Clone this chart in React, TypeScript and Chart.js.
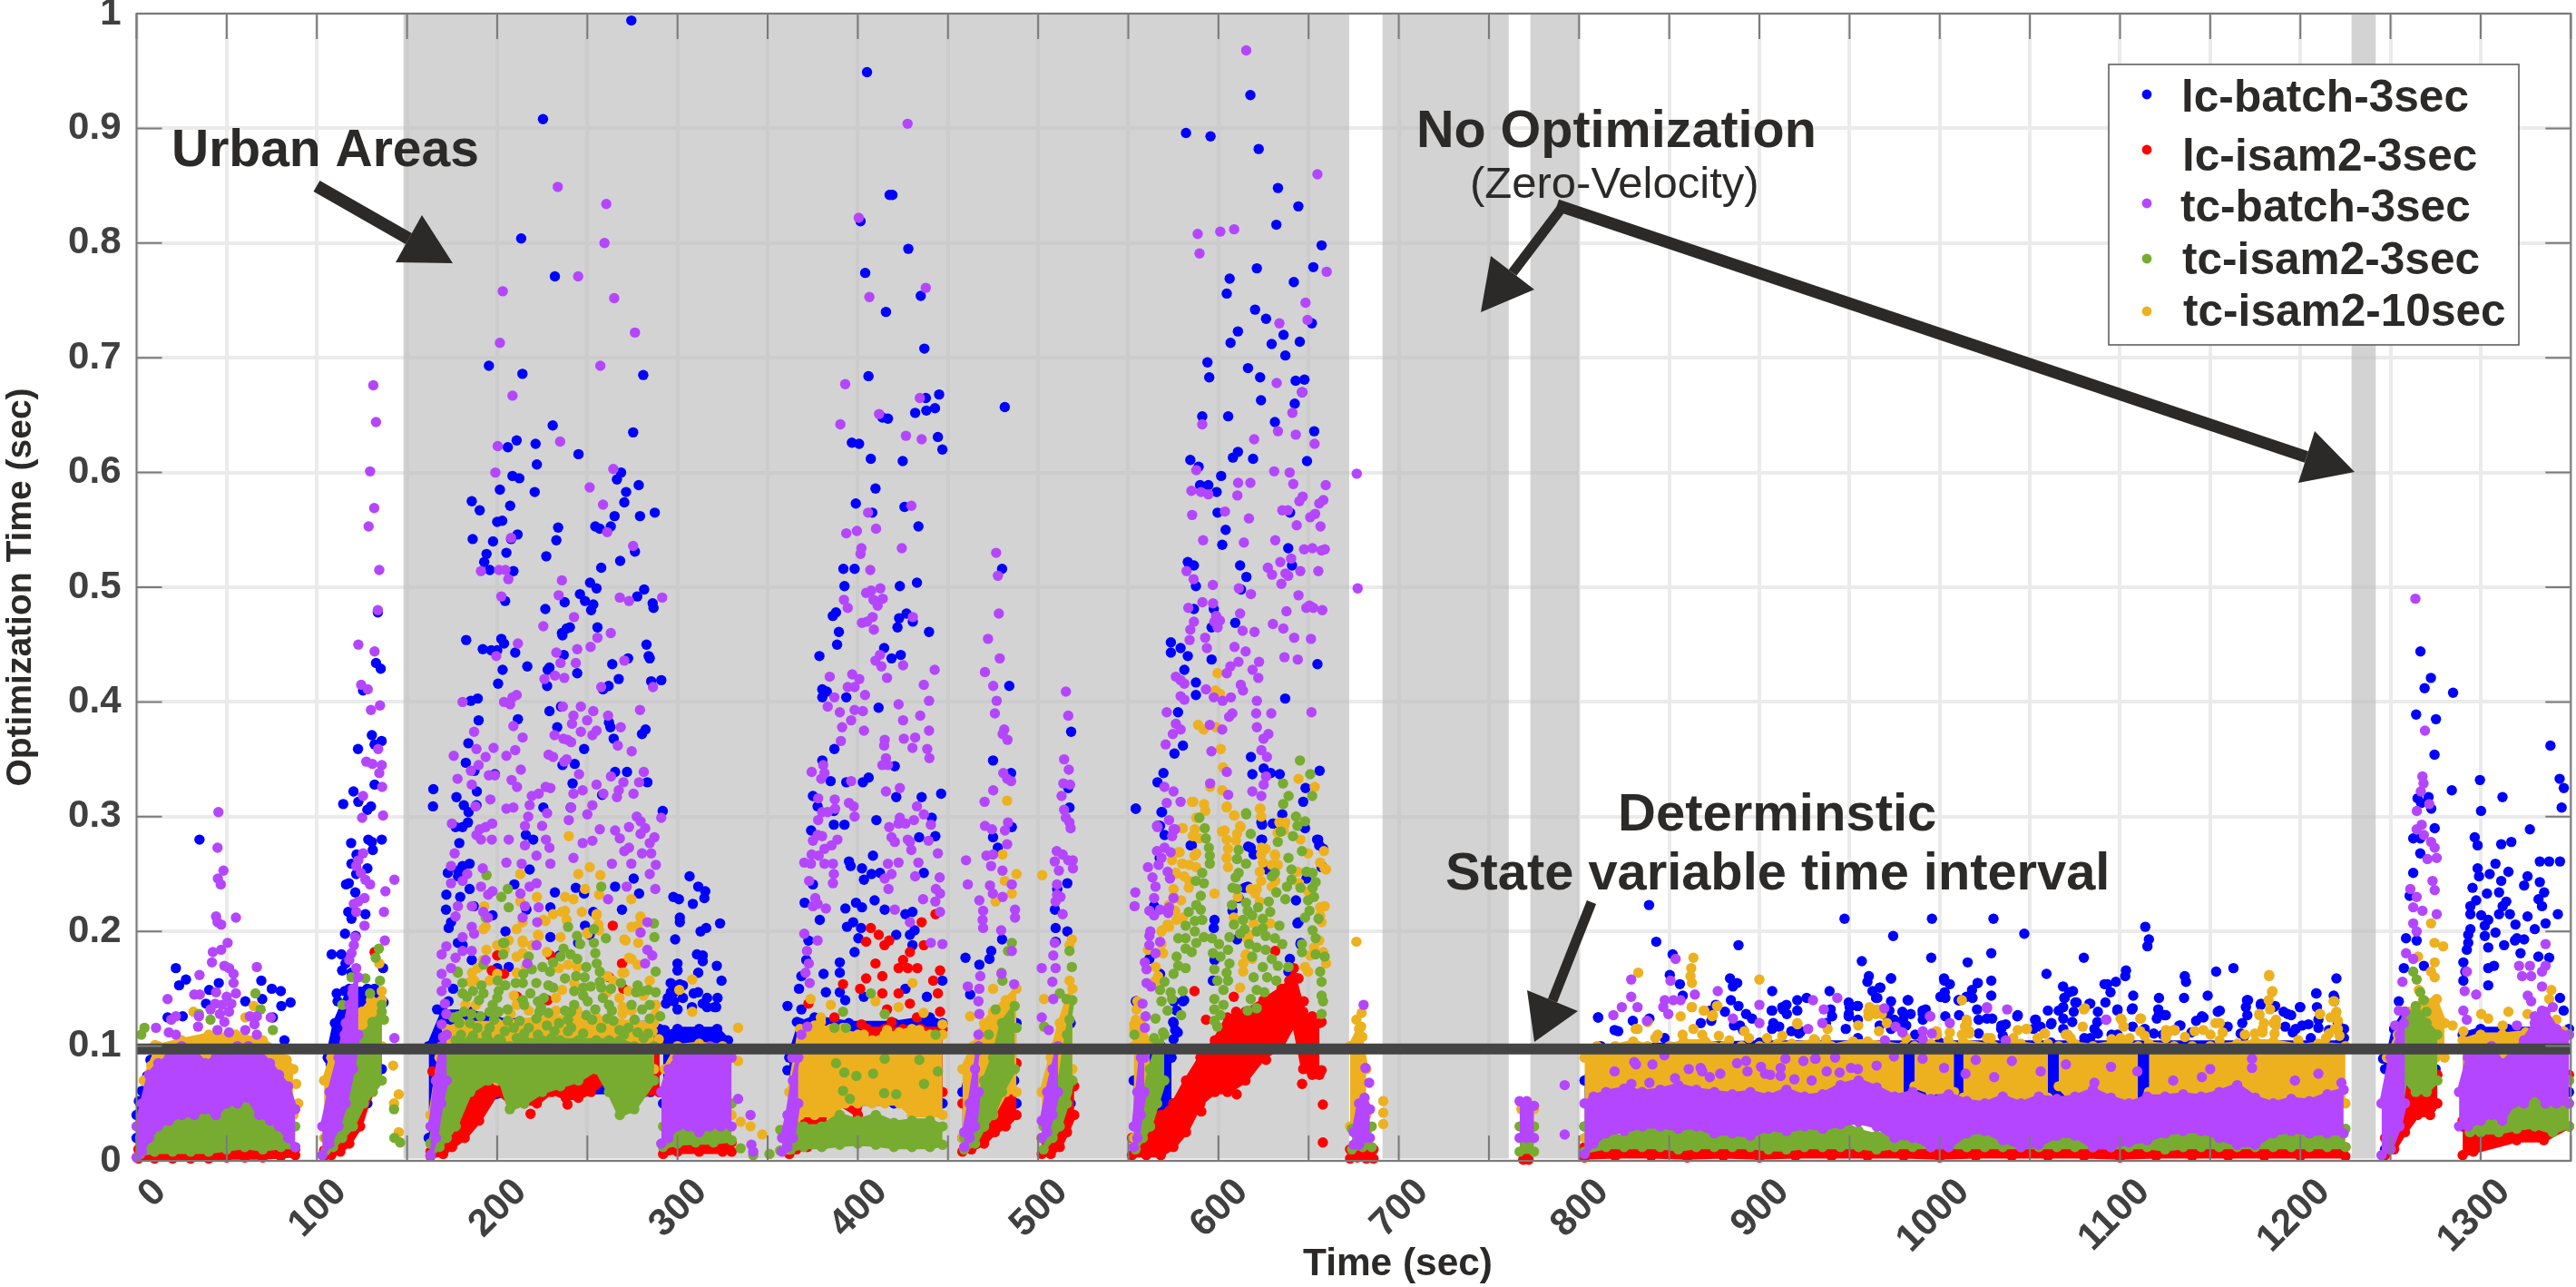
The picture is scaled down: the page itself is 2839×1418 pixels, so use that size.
import React, { useEffect, useRef } from "react";
import { Chart, registerables } from "chart.js";

Chart.register(...registerables);

type Pt = [number, number];
type Row = [number, number, number];

const seriesNames = ["lc-batch-3sec", "lc-isam2-3sec", "tc-batch-3sec", "tc-isam2-3sec", "tc-isam2-10sec"];
const seriesColors = ["#0000FF", "#FF0000", "#B446FF", "#77AC30", "#EDB120"];
const xTickStep = 50;
const yTickStep = 0.1;
const xAxisTitle = "Time (sec)";
const intervalLine: Pt[] = [[0, 0.0976], [1350, 0.0976]];
const noOptimizationRegions: Pt[] = [[148, 672.5], [691, 761], [773, 800], [1228.4, 1241.8]];

const lcBatchPoints: Pt[] = [
[274.4,.994],[225.4,.908],[213.3,.804],[232,.771],[195.4,.693],[214,.686],[281,.685],[230.8,.641],[275.4,.635],[210.8,.628],[205.9,.622],[221.3,.625],[245.1,.616],[222,.607],[268.7,.6],[208.5,.597],[212.3,.595],[266.4,.594],[278.5,.589],[201.5,.585],[220.8,.583],[271.5,.583],[185.9,.575],[190.3,.567],[207.2,.571],[270.5,.574],[265.1,.562],[279.2,.562],[287.4,.565],[200,.557],[202.8,.558],[233.8,.552],[254.4,.553],[256.9,.551],[263,.553],[211.3,.546],[207.7,.542],[186.4,.542],[197.7,.54],[232.8,.541],[194.1,.529],[205.1,.53],[276.4,.531],[227.2,.527],[192.8,.522],[268.2,.523],[195.9,.515],[209,.514],[257.7,.517],[251.5,.504],[255.1,.499],[281.5,.498],[245.9,.494],[277.7,.492],[248.7,.488],[204.4,.488],[237.4,.487],[253.3,.485],[286.2,.486],[286.7,.482],[252.1,.48],[226.7,.481],[133.8,.478],[255.6,.465],[240.3,.465],[238.5,.464],[235.9,.46],
[182.8,.454],[192,.446],[196.7,.445],[200,.445],[202.3,.455],[203.8,.451],[210,.443],[236.2,.458],[216.7,.431],[203,.428],[200.5,.416],[229,.43],[228,.428],[236.9,.441],[244.4,.425],[227.7,.414],[263.8,.433],[272.6,.438],[282.8,.45],[284,.44],[284.6,.438],[285.4,.418],[291,.419],[267.4,.42],[261.8,.414],[258.7,.411],[189.2,.403],[185.4,.401],[189.7,.384],[235.4,.396],[229,.392],[211.5,.385],[233.3,.378],[262,.382],[262.8,.378],[264.6,.368],[282.3,.376],[280.3,.372],[184,.364],[248.2,.359],[182.6,.347],[187.4,.34],[198.7,.337],[265.4,.339],[272,.339],[236.2,.345],[243,.346],[241.8,.329],[283.3,.33],[164.6,.324],[164.4,.309],[177.4,.317],[188.7,.322],[188.5,.31],[181.5,.31],[184.1,.304],[291.8,.305],[258.2,.319],[225.6,.308],[240.8,.308],[183.8,.295],[176.9,.291],[180.8,.291],[215.9,.284],[220,.28],[179,.277],[184.7,.259],[172.6,.251],[178.3,.253],[218,.254],[180.8,.257],[178.3,.248],[275.7,.246],[209.5,.241],[243.6,.238],[184.7,.237],[232,.234],[171.8,.232],[179.5,.23],[278.7,.233],[265.4,.239],[248.2,.233],[187,.222],[229.5,.221],[171.6,.219],[174.4,.208],[173.1,.203],[197.4,.214],[216.2,.219],[253.3,.217],[269.2,.219],[248.7,.205],[204.6,.2],[229.5,.195],[251.3,.197],[244.9,.19],[178.2,.19],[180.8,.188],[185.9,.175],[200,.168],[206.4,.169],[234.6,.179],[175.6,.15],[173,.139],[166.7,.132],
[132.8,.434],[135.4,.429],[125.6,.41],[130.5,.371],[135.9,.366],[132,.363],[122.8,.359],[132,.328],[120.3,.322],[123,.313],[114.6,.311],[128,.306],[130,.309],[128.5,.28],[136,.28],[130.5,.278],[119,.277],[122,.267],[131,.271],[119.2,.259],[128,.255],[116.2,.241],[121.8,.25],[121.3,.234],[117.7,.242],[117.4,.217],[126.9,.215],[119.2,.211],[115.6,.198],[121.5,.196],[108.2,.18],[113.6,.18],[115.9,.172],[114,.166],[119.2,.164],[136.7,.168],[111,.146],[115.4,.148],[111.5,.139],[137,.138],[132,.15],[107,.088],[107.7,.084],
[34.9,.28],[21.8,.168],[27.4,.158],[23.6,.153],[69.2,.157],[75,.15],[80,.148],[80.3,.135],[85.4,.138],[40.3,.149],[45.6,.155],[60.3,.139],[69.7,.141],[38.5,.137],[17.2,.125],[25.6,.126],[75.6,.125],[82,.105],[7.7,.088],[5.9,.074],[3,.061],[1.3,.052],
[306.7,.248],[297.7,.23],[300.8,.228],[311.5,.239],[315.4,.235],[314.9,.229],[308.5,.224],[301.3,.212],[301.3,.208],[323.6,.207],[315.9,.203],[312.8,.2],[298.7,.193],[310.8,.18],[314,.179],[300,.172],[314,.174],[321.8,.17],[311.5,.164],[300,.166],[324.4,.157],[296.2,.155],[301.3,.154],[309,.146],[314,.137],[320.5,.134],[293.6,.137],[297.4,.146],[300,.132],[298,.139],[294.6,.142],[303,.142],[308,.134],[316.4,.142],[322.2,.142],[311.4,.147],[316.4,.134],[321.4,.134],[292.9,.114],[298,.153],[303,.153],[296.3,.147],
[405.1,.949],[419.2,.842],[417.6,.842],[401.5,.819],[428,.795],[404.1,.774],[434.9,.754],[415.6,.74],[436.9,.708],[405.9,.684],[445.1,.668],[437.7,.665],[442.8,.656],[438,.654],[431.8,.652],[416.7,.647],[413.6,.648],[444.4,.631],[396.7,.626],[400.7,.625],[446.9,.62],[407.2,.612],[424.9,.61],[409.8,.586],[398.9,.573],[425.9,.57],[408,.565],[433.6,.553],[392,.516],[398.2,.516],[392.6,.501],[432.8,.504],[423.3,.501],[387.9,.478],[386.1,.475],[427,.477],[422.9,.473],[430.5,.47],[422,.465],[389.5,.461],[439.5,.461],[481.5,.657],[480,.516],
[378.7,.44],[388.5,.45],[414.6,.447],[418.7,.438],[423.8,.441],[484,.414],[380.3,.411],[382.8,.409],[380.3,.404],[393.6,.404],[411.5,.395],[518.3,.374],[387,.359],[475,.349],[380.3,.349],[384.9,.331],[393.6,.33],[402.8,.33],[406,.334],[420.5,.344],[485,.338],[375.1,.318],[435.4,.317],[421.3,.317],[446.2,.32],[377.7,.309],[386.7,.305],[410.3,.297],[392.6,.293],[441,.299],[374.1,.288],[386.7,.293],[443,.283],[434,.282],[475,.282],[477.6,.273],[408.4,.266],[395.1,.261],[402.3,.255],[396,.257],[407.6,.25],[412.3,.251],[403.4,.245],[436.6,.251],[375.1,.241],[516.2,.242],[370.5,.225],[399,.225],[402.3,.221],[409.3,.227],[393.1,.22],[414.9,.219],[430.3,.217],[426.4,.215],[378.9,.21],[397.4,.208],[394,.204],[401.8,.203],[431.5,.201],[428.9,.197],[372.6,.192],[400.3,.194],[421.3,.197],[459.7,.177],[473,.176],[467.4,.171],[398.2,.182],[390,.173],[390,.164],[368.7,.161],[381,.163],[382.3,.147],[390,.147],[393,.14],[361,.135],[462.3,.145],[474,.183],[480,.193],[509.7,.203],[516.2,.2],[517.4,.308],[516.7,.325],[485.4,.291],[509.3,.219],[510.6,.237],[509.7,.191],[361,.079],[364.9,.074],[486.7,.081],[486.7,.07],[430.3,.188],[367.4,.15],[371.4,.175],[368.7,.132],[366.2,.121],[403.3,.143],[426.4,.15],[438.3,.143],[446.9,.157],
[617.7,.929],[582,.896],[595.6,.893],[622.3,.882],[633,.848],[644.3,.832],[632.1,.816],[657.2,.798],[652.6,.779],[621.3,.778],[606.2,.769],[641.8,.766],[604.6,.756],[620.3,.742],[626.4,.734],[651.8,.73],[610.8,.723],[636.1,.72],[606.7,.713],[629.5,.712],[645.1,.714],[637.1,.702],[593.9,.696],[616.4,.691],[594.9,.683],[623.1,.683],[642.8,.68],[647.7,.681],[646.4,.67],[623.6,.663],[642.3,.66],[591,.649],[605.4,.649],[631.3,.644],[653.1,.636],[610.8,.618],[608,.613],[619.2,.612],[584.4,.611],[649.1,.61],[589,.605],[601.5,.597],[589.8,.589],[594.4,.589],[599,.583],[599.5,.565],[639.7,.565],[604,.55],[602.1,.537],[638.7,.534],[583,.522],[586.4,.519],[612,.519],[640.8,.519],[615.5,.509],[587.5,.501],[612.5,.498],[586.4,.481],[597.4,.481],[609.3,.469],[596.2,.465],
[573.6,.452],[573.6,.443],[579,.447],[583,.44],[596.2,.437],[654.9,.433],[581.1,.428],[587.5,.417],[587.5,.406],[637,.403],[577.6,.391],[580.3,.362],[575.6,.355],[618,.352],[618.8,.337],[625.1,.342],[629,.338],[634,.337],[656.1,.34],[569.5,.338],[566.2,.33],[648.3,.325],[554.1,.307],[568.7,.304],[623.8,.295],[630.2,.294],[647,.313],[566.2,.292],[584.6,.275],[623.8,.28],[655.3,.28],[617.9,.273],[655.9,.275],[567.4,.264],[657.2,.257],[616.2,.239],[644.4,.208],[566.2,.219],[645.6,.19],[554.6,.139],[575.3,.139],[580.3,.139],[574.9,.121],[577.4,.112],[565.9,.074],
[554.2,.307],[568.4,.304],[567.6,.292],[570.1,.284],[585.2,.275],[564.3,.222],[576.8,.131],[581,.14],[575.1,.12],[576,.114],[575.1,.106],[597.8,.21],[597.4,.203],[597.8,.175],[596.9,.157],[616.5,.274],[619.5,.267],[624.2,.293],[630.4,.294],[635.4,.302],[624.2,.28],[648,.29],[654.7,.28],[658.1,.272],[657.2,.256],[648.8,.246],[643.8,.207],[643,.227],[611.2,.229],[614.5,.238],[627,.254],[607.8,.218],[610.3,.193],[639.6,.176],[638.8,.165],[645.5,.189],[567.6,.163],[561.7,.176],[554.2,.139],
[838.8,.223],[842.8,.191],[888.4,.188],[947.2,.211],[974.2,.196],[995.7,.211],[1029.8,.211],[1046.9,.198],[1114,.204],[1116,.193],[1115.2,.187],[995.3,.177],[1028.6,.181],[1015.5,.173],[956.8,.174],[1079.9,.177],[851.9,.18],[1162.9,.168],[1153.3,.165],[1135.9,.161],[1136.6,.156],[1059.2,.163],[1103.3,.166],[1102.9,.161],[1220,.159],[960.7,.161],[959.9,.156],[973,.159],[1002.4,.159],[1005.6,.154],[1021.1,.155],[1028.6,.157],[850.3,.162],[855.9,.154],[883.7,.159],[887.7,.155],[885.3,.152],[907.1,.148],[938.9,.148],[966.7,.151],[962.7,.148],[1017.9,.149],[1028.6,.144],[1068.4,.152],[1073.9,.148],[1093,.154],[1097.7,.156],[1107.3,.144],[1121.6,.142],[1135.5,.142],[1148.6,.144],[1208.9,.146],[1218.5,.144],[810.6,.125],[926.2,.142],[921,.14],[915,.136],[950,.134],[954.4,.135],[964.7,.142],[982.6,.14],[1000.4,.143],[1010.4,.14],[1069.1,.142],[1075.9,.138],[1083,.137],[1170.4,.14],[1178,.136],[1218.8,.139],[1185.1,.134],[1199.8,.134],[821.7,.113],[857.5,.144],[872.6,.131],[907.1,.131],[913.1,.132],[921,.131],[949.6,.128],[970.7,.126],[990.5,.131],[976.6,.12],[1026.2,.124],[1034.2,.118],[1043.3,.127],[1053.3,.123],[1062,.12],[1066,.131],[1098.5,.131],[1106.5,.132],[1121.6,.128],[1145.4,.126],[1155.3,.131],[1193,.128],[1201,.118],[1220.8,.12],[1133.5,.118],[1085.8,.115],[1052,.115],[966.7,.118],[936.9,.12],[923,.113],[907,.115],[889.2,.118],
[973,.159],[967.1,.151],[965.4,.142],[973,.139],[982.2,.14],[1002.6,.157],[1002.8,.147],[1000.6,.143],[1003.1,.142],[1021,.155],[1018.2,.142],[1014.8,.143],[1010.7,.14],[1071.8,.147],[1069.3,.142],[1075.2,.138],[1083.5,.137],[1091.9,.138],[1094.7,.147],[1091.4,.154],[1068.5,.134],[1074.3,.13],[1060,.131],[1087.7,.13],[1098.6,.132],[1107,.133],[1121.2,.132],[992.2,.132],[990.6,.128],[979.3,.13],[983.9,.128],[1020.7,.132],[1010.7,.127],[1003.1,.126],[1029.1,.124],[1043,.126],[1036.6,.119],[1034.1,.115],[1052.9,.123],[1055.9,.117],[1061.7,.119],[1068.5,.124],[1073.5,.121],[1087.4,.121],[1124.6,.127],[1120.4,.124],[974.7,.123],[979.7,.123],[990.6,.123],[1021.6,.123],[972.1,.131],[981.4,.118],[986.4,.11],[973,.115],[1021.6,.111],[1035,.109],[1087.7,.111],[1098.6,.11],[1113.7,.115],[1107,.117],[1118.7,.111],[1068.5,.115],[1095.3,.11],[1080.2,.107],[1083.5,.107],[1061.7,.103],[1123.7,.11],
[810.5,.125],[819.7,.114],[829.8,.122],[839,.124],[847.4,.107],[867.5,.12],[875.8,.136],[880.9,.13],[888.4,.135],[892.6,.128],[884.2,.14],[895.9,.124],[906.8,.131],[912.7,.134],[915.2,.128],[911,.117],[921.9,.111],[917.7,.113],[939.5,.132],[949.5,.138],[949.5,.126],[940.3,.126],[947.9,.115],[954.6,.135],[954.6,.123],[954.6,.107],[907.7,.12],[890.9,.114],[885.9,.118],[873.3,.122],
[1171,.14],[1178.2,.137],[1169.8,.134],[1154.2,.13],[1146.3,.125],[1142.2,.122],[1170.6,.127],[1186,.135],[1190.7,.13],[1194.9,.127],[1199.9,.134],[1208.8,.146],[1209.2,.134],[1218.9,.142],[1210,.123],[1210,.116],[1159.7,.117],[1167.8,.12],[1197.4,.115],[1204.5,.119],[1224.2,.115],[1132.9,.118],[1130.4,.114],[1139.6,.112],[1166.9,.111],[1195.8,.112],[1205.8,.107],[1169,.109],[1191.6,.117],[1215.9,.114],[1224.2,.107],[1125.4,.127],
[1266.6,.444],[1272.4,.421],[1268.9,.412],[1284.7,.408],[1264.2,.389],[1275.2,.385],[1274.4,.354],[1338.7,.362],[1299.6,.332],[1343.8,.333],[1346.1,.325],[1284,.323],[1312.1,.317],[1271.1,.317],[1265,.316],[1267,.312],[1272.6,.307],[1300.2,.305],[1344.9,.308],
[1327.3,.289],[1296.7,.282],[1298.3,.275],[1311.4,.276],[1317,.278],[1332.8,.261],[1338,.261],[1344,.261],[1308.2,.259],[1298.3,.255],[1299.1,.248],[1305,.25],[1315.4,.252],[1311.4,.244],[1326,.248],[1332.8,.243],[1295.5,.238],[1303.5,.233],[1310.2,.234],[1324.1,.24],[1335.2,.234],[1297.5,.227],[1314.2,.226],[1332.1,.228],[1294.3,.222],[1312.2,.222],[1334,.222],[1294.3,.215],[1300.3,.214],[1310.2,.215],[1316.2,.215],[1326,.213],[1342.8,.215],[1304.2,.21],[1319.3,.206],[1336,.207],[1294.3,.202],[1302.3,.205],[1293.1,.197],[1308.2,.199],[1330,.202],[1320.1,.194],[1302.3,.196],[1324.1,.193],[1293.1,.19],[1304.2,.186],[1313,.188],[1319,.192],[1292.3,.184],[1322.1,.181],[1332,.178],[1338,.177],[1290.4,.173],[1307.4,.17],[1304.2,.168],[1291.5,.165],[1290.4,.157],[1304.2,.153],[1346,.131],[1344,.142],
[1262.6,.251],[1260.6,.231],[1266.5,.281],[1274.5,.29],[1262.6,.281],[1266.5,.268],[1258.6,.194],[1257.4,.168],[1254.6,.139],[1264.5,.192],[1268.5,.17],[1245.9,.089]];

const tcBatchPoints: Pt[] = [
[233.6,.849],[260.5,.834],[259.5,.8],[244.9,.771],[203.1,.758],[264.9,.752],[276.4,.722],[201.5,.713],[257.2,.693],[208.5,.667],[234.9,.627],[200.3,.623],[199,.6],[264.4,.603],[251.3,.587],[258.7,.572],[261,.548],[207.7,.543],[275.4,.536],[191,.514],[201,.515],[204.6,.515],[206.2,.507],[235.9,.506],[202.3,.492],[234.1,.493],[268,.491],[273.1,.488],[291.5,.491],[242.6,.474],[225.6,.466],[263,.46],[131.3,.676],[132.8,.644],[129.5,.601],[131.8,.569],[128.7,.553],[134.6,.515],[133.8,.48],
[45.4,.304],[44.9,.273],[48.2,.253],[45.1,.246],[46.7,.241],[44.1,.213],[55.1,.212],[44.9,.208],[46.9,.206],[50.5,.19],[42.3,.182],[46.9,.184],[48.7,.17],[66.7,.169],[51.3,.168],[41.8,.173],[53.8,.163],[34.9,.162],[53.8,.155],[32,.145],[35.1,.145],[44.1,.147],[55.1,.146],[50,.143],[17.2,.141],[43.6,.137],[47.4,.136],[52.6,.137],[41,.132],[46.2,.128],[51.3,.13],[21.8,.126],[34.6,.126],[62.8,.126],[66.7,.126],[74.4,.125],[19.2,.123],[10.8,.116],[34.1,.117],[48.7,.121],[65.4,.119],[17.9,.112],[21.8,.11],[44.9,.114],[51.3,.112],[60.3,.114],[66.7,.11],
[123,.45],[132,.444],[124.6,.415],[128.2,.411],[135,.397],[130,.393],[134,.359],[127.4,.348],[130.8,.346],[136,.345],[134.6,.338],[136.2,.326],[125.6,.318],[136.7,.301],[125.1,.299],[143,.245],[125.6,.268],[123,.262],[121.8,.257],[124.4,.251],[126.9,.245],[129.5,.241],[138,.235],[126.4,.229],[123,.226],[120.5,.224],[121.8,.217],[137.2,.217],[126.4,.205],[121.3,.195],[137.7,.192],[120.5,.188],[119.2,.181],[118,.175],[121.8,.168],[119.7,.146],[118,.136],[118,.121],[143,.107],[115.4,.11],
[199.5,.44],[211.5,.451],[255.6,.456],[251.8,.448],[232.8,.443],[235.1,.434],[244.4,.446],[243.6,.434],[237.2,.421],[232,.423],[226.2,.42],[270.5,.436],[286.4,.413],[257.7,.413],[180.8,.4],[203.8,.4],[210.8,.406],[208.5,.404],[207.2,.398],[236.4,.396],[242.3,.388],[246.4,.396],[253.3,.392],[261.5,.388],[279.2,.393],[249.9,.384],[241.5,.381],[209,.379],[255.1,.375],[268.5,.378],[246.4,.374],[252.8,.371],[187.2,.374],[231.8,.371],[236.7,.368],[214.1,.369],[239,.367],[241,.365],[198,.36],[210,.358],[266.9,.362],[274.6,.357],[188.5,.359],[175.9,.353],[205.1,.353],[193.6,.352],[228.5,.354],[231,.352],[237.2,.348],[238.5,.35],[185.4,.34],[189.7,.345],[213.1,.341],[195.4,.336],[198.7,.336],[245.4,.337],[263.1,.335],[281.3,.339],[178,.333],[208,.332],[185.9,.328],[270,.33],[278.7,.33],[211,.326],[255.1,.328],[247.4,.323],[267.4,.323],[226.9,.326],[229.5,.325],[242.3,.32],[223,.32],[219.2,.318],[258.9,.32],[275.6,.32],[266.4,.317],[196.2,.315],[209,.308],[205.1,.307],[188,.309],[218,.31],[227.7,.303],[252.8,.31],[241,.308],[217.2,.3],[250,.302],[291,.299],[277.4,.3],[239.7,.297],[174.9,.294],[197.2,.294],[279.5,.296],[193.6,.291],[190.3,.289],[215.4,.292],[224.9,.292],[256.9,.289],[273.1,.291],[282.1,.29],[188.5,.284],[265.4,.288],[279.5,.285],[191,.28],[197,.28],[206.4,.28],[247.4,.277],[287.2,.282],[284.6,.277],[268,.281],[227,.28],[252.8,.279],[215.4,.275],[229,.273],[273.1,.273],[176.4,.268],[221.8,.266],[242.3,.264],[280.3,.268],[285.4,.268],[270.5,.27],[205.1,.26],[213.6,.259],[229.5,.259],[263.6,.259],[274.4,.259],[288,.258],[174.4,.257],[192,.255],[284.6,.25],[183.4,.25],[180.8,.244],[221.8,.242],[218,.239],[287.7,.237],[191,.239],[197.4,.235],[174.4,.242],[271.8,.239],[195,.232],[261.5,.228],[212.9,.233],[178.2,.222],[186,.222],[215.4,.222],[223,.221],[192.3,.217],[194.9,.212],[176.9,.213],[214.1,.212],[222.2,.208],[185.9,.204],[283.3,.208],[180.8,.195],[187.2,.198],[279.5,.199],[221.8,.188],[171.8,.187],[180.8,.183],[185.9,.183],[169.2,.18],[176.9,.177],[283.3,.184],[286,.179],[193.6,.175],[216.7,.172],[282,.172],[169.2,.163],[174.4,.168],[171.8,.155],[169.2,.148],[171,.137],[171.8,.128],[169.2,.119],[170,.108],
[427.6,.904],[400.5,.822],[437.7,.761],[406.4,.753],[393,.677],[434.4,.665],[411.8,.651],[390.3,.642],[426.7,.632],[435.4,.629],[429.7,.571],[405.7,.565],[399.5,.549],[393.6,.547],[410.1,.551],[402,.534],[424.4,.534],[401.5,.529],[406.9,.515],[412.5,.499],[404.6,.495],[407.4,.497],[392.3,.489],[408.7,.489],[413.8,.49],[411,.484],[394.4,.482],[408.2,.474],[430.5,.474],[402.3,.469],[405.1,.47],[408.9,.463],[476.7,.53],[477.7,.51],[478.2,.477],
[409.8,.436],[412.3,.441],[413.1,.431],[425.1,.432],[442.6,.428],[384.4,.422],[396.9,.424],[400.8,.42],[416.2,.421],[436.6,.415],[394.4,.413],[398.2,.413],[387,.404],[404,.406],[383.3,.396],[390,.391],[398.2,.393],[402.8,.392],[422.6,.398],[439.5,.401],[425.1,.384],[434.6,.388],[396.3,.384],[391.3,.378],[403.4,.375],[439.5,.375],[414.9,.367],[425.5,.368],[431.8,.369],[414.6,.362],[390.6,.366],[430.3,.36],[438.5,.359],[439.7,.351],[415.6,.351],[413.6,.345],[416.7,.345],[374.4,.339],[380.8,.345],[381.5,.338],[379.7,.333],[396.3,.331],[415.6,.322],[423.3,.325],[378,.316],[387.2,.315],[395.1,.312],[397.7,.309],[387.4,.307],[432.8,.309],[380.2,.304],[398.2,.3],[383.3,.304],[423.3,.299],[431.1,.297],[436.6,.302],[378,.297],[422.6,.294],[426.4,.294],[417.4,.291],[440.5,.293],[377.7,.284],[380.2,.283],[418.7,.282],[427.7,.28],[375.1,.279],[388.7,.28],[420.5,.278],[428.9,.278],[439.2,.279],[385.4,.275],[429.7,.271],[381.5,.272],[374.4,.267],[378.3,.266],[444.4,.268],[370.3,.26],[374,.259],[381.5,.259],[386.2,.259],[416.7,.259],[422.6,.26],[433.6,.26],[386.7,.25],[418.7,.25],[414.9,.246],[431.8,.248],[445.4,.247],[373,.244],[386.2,.242],[417,.237],[443.3,.237],[445.6,.233],[376.4,.229],[436.2,.228],[375.1,.222],[377.7,.224],[443,.226],[382.3,.22],[420.5,.219],[445.6,.217],[370.3,.198],[377.7,.192],[371.8,.183],[372.8,.172],[371,.164],[373.3,.155],[428.9,.208],[440.5,.19],[446.9,.189],[372,.117],[368.7,.11],[363.6,.09],
[472.2,.455],[478.7,.438],[470.5,.426],[475.1,.414],[477,.401],[476,.39],[481.2,.376],[480.3,.372],[483,.367],[480.7,.338],[482.8,.333],[485,.331],[475.1,.323],[470.3,.313],[483.3,.295],[481.6,.288],[474.4,.289],[470.5,.292],[482.8,.276],[475,.267],[471.3,.266],[460,.262],[473.9,.257],[480.2,.253],[461,.241],[473.3,.24],[485.4,.241],[474.9,.233],[467.4,.227],[480.3,.23],[487.2,.219],[469.5,.218],[469.2,.21],[487.2,.212],[469.5,.203],[479.5,.201],[485.4,.183],[479.7,.163],[486.7,.154],[461,.152],[467.9,.161],[467.4,.15],[466.9,.139],[467.4,.128],[466.9,.11],[466.2,.096],
[515.4,.409],[516.7,.388],[514.4,.35],[517,.341],[514,.329],[517.7,.328],[513,.318],[514.4,.306],[515.4,.299],[517.4,.295],[518,.29],[510.3,.27],[513.6,.267],[516.7,.262],[519.2,.262],[509.2,.261],[511.5,.253],[519.3,.255],[510.5,.241],[510.5,.232],[512.4,.23],[509.7,.226],[513.6,.215],[509.2,.19],[508.4,.179],[509.7,.168],[502,.168],[507.9,.156],[508.4,.141],[502,.125],[505.9,.114],
[615.4,.968],[654.9,.86],[608.7,.812],[601,.81],[588.5,.808],[589.5,.791],[660,.775],[648.3,.748],[633.8,.73],[649.4,.733],[632.3,.678],[646.4,.67],[641,.652],[591,.642],[633,.636],[642.9,.633],[619.8,.629],[653.3,.625],[587.7,.602],[630.9,.601],[639.5,.6],[641.5,.59],[610.9,.591],[617.7,.591],[659.5,.589],[585,.584],[590.3,.583],[594.4,.581],[610.5,.58],[646.7,.579],[644.9,.575],[658.2,.576],[655.9,.573],[585.4,.563],[603.6,.566],[635.4,.567],[638.5,.567],[653.6,.564],[616.9,.56],[650.9,.561],[643.4,.554],[656.6,.553],[591.5,.541],[614.1,.539],[631.5,.541],[647.5,.533],[652.1,.534],[657.2,.532],[659,.533],[640.3,.525],[634.3,.522],[627.4,.517],[582.3,.514],[629.7,.511],[637.2,.512],[638.7,.51],[645.4,.514],[655.4,.514],[586.2,.507],[634.9,.503],[596.9,.502],[611.3,.499],[618,.494],[644.4,.493],[591.1,.487],[597,.486],[583.3,.482],[648.7,.482],[650.5,.484],[652.6,.482],[657.6,.48],[637.7,.479],[612,.477],[598.7,.475],[600.8,.471],[597.7,.47],[586.4,.47],[630.2,.468],[636,.464],[599.5,.465],[613.4,.462],[620,.461],[584.4,.463],[676.7,.599],[677.2,.499],
[593.6,.447],[584,.454],[592.6,.456],[608.9,.448],[615.1,.444],[642,.456],[651.3,.455],[622.5,.435],[636.6,.439],[644,.437],[611.1,.435],[606.6,.431],[604.6,.425],[618.9,.428],[576.4,.422],[622.1,.421],[579,.419],[581.1,.416],[612.4,.415],[613.6,.41],[593.1,.411],[579,.405],[581.1,.402],[597.4,.404],[602.3,.401],[606.9,.404],[621.3,.401],[571.3,.391],[651.6,.391],[607.7,.39],[605.9,.387],[620.9,.39],[629.3,.39],[576.4,.381],[595.2,.38],[602.1,.376],[621.3,.378],[574.7,.372],[579,.376],[627.7,.372],[625,.368],[570.7,.363],[623.8,.358],[596.1,.357],[626.9,.352],[604.6,.339],[626.4,.335],[625.1,.328],[595.4,.329],[570,.326],[575.1,.322],[618.8,.322],[623.8,.318],[605.4,.319],[571.3,.312],[579,.313],[566.2,.291],[575.1,.289],
[565.9,.292],[572.6,.297],[576,.289],[574.3,.283],[570.1,.273],[565.9,.27],[573.5,.269],[568.4,.264],[560.9,.256],[566.8,.258],[571.8,.252],[563.4,.247],[573.1,.246],[565.1,.239],[553.9,.234],[564.3,.229],[575.1,.229],[553.5,.222],[567.6,.219],[572.6,.221],[561.7,.218],[564.3,.214],[572.1,.216],[562.2,.2],[561.7,.196],[567.6,.191],[561.7,.188],[565.1,.181],[559.2,.173],[560.1,.167],[560.1,.155],[562.6,.152],[557.9,.137],[559.6,.126],[559.2,.116],
[680.5,.136],[681.5,.081],[683.6,.068],[792,.066],[792,.023],[333.6,.054],[340.5,.04],[341,.014],[342,.008],
[828.9,.158],[853.5,.176],[828.9,.143],[850.7,.157],[864.2,.145],[876.9,.148],[943.2,.142],[929.7,.14],[847.5,.14],[852.3,.14],[856.3,.14],[823.7,.134],[819,.127],[832.4,.134],[837.6,.122],[846.7,.134],[849.5,.128],[900,.136],[935.7,.132],[1026.2,.134],[1037.4,.132],[1092.2,.123],[994.5,.126],[900,.12],[927,.115],[934.9,.12],[885.3,.124],
[830.6,.086],[840.7,.084],[847.3,.092],[853.2,.072],[860.8,.08],[868.3,.078],[872.5,.073],[878.3,.076],[887.6,.085],[892.6,.087],[893.4,.078],[900.9,.082],[906,.075],[911.8,.081],[911.8,.074],[919.4,.071],[929,.07],[937.3,.078],[944.5,.077],[914.4,.089],[924.4,.087],[931.1,.089],[942,.09],[954.6,.08],[819.7,.078],[829,.067],[839,.068],[831.6,.084],[867.4,.081],[903.1,.076],[931,.089],[950.8,.081],[974.6,.091],[990.5,.089],[1002.4,.081],[1014.3,.076],[1030.2,.073],[1056,.078],[1085.8,.068],[1109.6,.078],[1129.5,.07],[1145.4,.073],[1173.2,.089],[1173.2,.081],[1197,.07],[1222.8,.068],[1070,.084],[1040,.087],[1095,.082],[1150,.08],[1210,.076],[965,.083],[1020,.088],
[969.3,.133],[994.8,.126],[1026.2,.133],[1005.6,.12],[975.5,.117],[979.3,.112],[990.6,.113],[995.6,.111],[1092.4,.123],[990.6,.106],[969.6,.105],[1036.6,.105],
[1263.8,.49],[1269.1,.375],[1267.7,.335],[1268.3,.329],[1266.8,.322],[1271.5,.311],[1264.6,.305],[1267.3,.293],[1264.5,.289],[1268.5,.284],[1272.5,.278],[1274.5,.273],[1275.6,.264],[1270.5,.263],[1273.3,.244],[1274.5,.236],[1261,.237],[1264.5,.23],[1262.6,.221],[1267.7,.218],[1275.6,.215],[1262.6,.207],[1264.5,.2],[1258.6,.181],[1262.6,.176],[1256.6,.156],[1254.6,.131],[1252.6,.118],[1257.4,.12],[1336,.189],[1321.3,.17],[1336,.17],[1327.3,.17],[1323,.161],[1328,.161],[1334,.165],[1292.3,.165],[1291.1,.148],[1297.5,.145],[1326.1,.144],[1328,.139],[1334,.152],[1340,.134],[1290.4,.131],[1292.3,.123],[1334,.131],[1320.1,.118],[1330,.126]];

const tcIsam10Points: Pt[] = [
[239.7,.283],[245,.25],[251.3,.256],[257.2,.249],[212.8,.25],[222,.23],[237.7,.23],[242.3,.228],[248.7,.237],[256.5,.232],[212.8,.226],[235.9,.217],[255.1,.214],[192.8,.222],[279.5,.212],[274.4,.228],[214.1,.208],[225.6,.21],[193.6,.204],[270.5,.193],[206.4,.192],[223,.196],[214.1,.192],[250,.199],[256.5,.201],[200,.188],[278.2,.19],[273.1,.177],[192.3,.175],[186,.164],[270.5,.164],
[192.4,.202],[194.1,.184],[189.1,.168],[187.4,.157],[210.8,.202],[214.2,.19],[210.8,.178],[219.2,.188],[227.6,.182],[222.6,.197],[235.1,.195],[226.8,.209],[231,.215],[237.6,.218],[238.5,.21],[246.9,.217],[255.2,.215],[256.1,.206],[250.2,.198],[271.2,.192],[277.9,.205],[274.5,.204],[279.5,.213],[274.5,.176],[277.9,.171],[284.6,.157],[287.9,.136],[281.2,.144],[272.8,.148],[269.5,.134],[267.8,.142],[264.5,.157],[261.1,.161],[269.5,.164],[244.4,.169],[239.3,.171],[234.3,.168],[210.8,.164],[215.9,.169],[200,.163],[195.8,.157],[184.9,.156],[182.4,.136],[188.2,.136],[209.2,.144],[232.6,.142],[236,.149],[242.7,.155],[261.1,.147],[269.5,.128],[274.5,.131],[287.9,.128],[286.2,.113],[289.6,.106],[267.8,.107],[217.5,.131],[210.8,.136],[207.5,.128],[232.6,.131],[244.4,.131],[204.2,.184],[214.2,.181],
[31.5,.13],[65,.135],[60.3,.125],[10.3,.101],[8.2,.083],[83.3,.088],[84.6,.078],[88.5,.067],[89.7,.05],[134.6,.172],[136,.148],[142.3,.083],[145.4,.058],[142.8,.05],[145.4,.025],[308.2,.158],[301,.149],[308.2,.13],
[333.6,.116],[333.6,.087],[335,.034],[340.5,.03],[347,.023],[357,.009],[482.8,.314],[480.2,.267],[488,.25],[481.5,.244],[485.4,.233],[476.4,.226],[502.3,.249],[518.7,.193],[517.4,.188],[517.4,.157],[503.3,.141],[475,.15],[462.3,.126],[676.5,.191],[679.4,.129],[676.5,.123],[679.8,.108],[679.1,.117],[691.4,.052],[691.4,.042],[691.4,.032],[385,.136],[379.5,.125],[373.8,.141],[430.3,.155],[422.6,.134],[436.5,.129],[409.8,.139],[447,.119],[379.5,.121],[385.4,.114],[403.3,.11],[416.2,.114],[434.1,.114],[391.8,.116],
[599.5,.425],[604.6,.425],[598.3,.41],[600.9,.407],[588.7,.38],[591.8,.376],[598.7,.378],[601.3,.359],[602.6,.343],[595.4,.326],[602.1,.323],[585.3,.313],[592,.311],[644.4,.333],[653.4,.326],[604.6,.309],[608.9,.301],[623.3,.307],[589.3,.299],[636.6,.293],[580,.29],[603.4,.288],[612.3,.291],[632.8,.286],[609.7,.279],[623.8,.273],[577.7,.269],[586.7,.266],[604.6,.264],[631.5,.266],[658.5,.27],[579.9,.259],[583.8,.258],[659.7,.254],[576.4,.251],[631.5,.244],[583.8,.244],[621.3,.237],[610.7,.23],[575.1,.23],[658.5,.222],[572.6,.219],[608.5,.212],[580.3,.212],[572.6,.204],[657.2,.208],[616.2,.193],[568.7,.201],[655.9,.192],[615.1,.179],[650.9,.179],[566.5,.161],[554.6,.132],[553.3,.119],[554.6,.108],
[586,.313],[592.7,.305],[587.7,.299],[586.9,.289],[585.7,.283],[580.2,.29],[589.4,.281],[587.7,.268],[578.5,.269],[574.3,.262],[580.2,.259],[587.7,.256],[576.3,.25],[581,.248],[583.5,.238],[597.8,.233],[575.1,.237],[579.3,.227],[572.6,.223],[576,.218],[576.8,.21],[571.8,.206],[568.4,.2],[568.4,.189],[560.9,.184],[569.3,.181],[565.1,.169],[565.1,.157],[555,.139],[554.2,.123],[553.4,.115],[556.7,.107],[604.5,.308],[608.6,.301],[612,.292],[601.9,.287],[610.3,.285],[604.5,.28],[605.3,.272],[604.5,.264],[605.3,.256],[622.9,.307],[623.7,.3],[626.2,.272],[623.7,.267],[631.3,.267],[624.6,.26],[629.6,.258],[622.9,.252],[623.7,.244],[617.9,.237],[620.4,.233],[629.6,.239],[622.9,.226],[632.9,.258],[637.1,.295],[636.3,.288],[643.8,.252],[644.7,.242],[649.7,.235],[656.4,.221],[658.9,.222],[656.4,.214],[653,.186],[658.1,.182],[659.7,.172],[649.7,.165],[648,.169],[615.3,.18],[613.7,.172],[613.7,.165],[618.7,.176],[612,.151],[628.7,.207],[619.5,.207],[617,.197],[658.9,.255],[649.7,.268],[656.4,.26],[645.5,.28],[633.8,.295],
[832.8,.164],[863.4,.177],[862.2,.168],[861.8,.161],[862.6,.155],[900,.158],[1182.7,.161],[1184.3,.147],[961.1,.134],[862.6,.134],[876.5,.135],[869.4,.131],[873.8,.126],[838,.121],[832.4,.115],[856.3,.126],[1218.8,.139],[1219.6,.128],[1220.8,.115],[1079.9,.132],[1111.6,.124],[1100.9,.123],[1177.2,.128],[1185.1,.12],[1210.9,.128],[1015.1,.12],[1016.3,.113],[964.7,.128],[954.8,.118],[970.7,.12],[921,.12],[998.5,.11],[1155.3,.12],[1125.5,.114],[1141.4,.113],[1069.9,.11],[1058,.111],[1048,.115],[1179.1,.115],[1169.2,.11],[1026.3,.107],[930.9,.105],[863.4,.115],[843.6,.11],[883.3,.105],
[1012.3,.14],[1014.9,.123],[1014,.117],[1016.5,.111],[1012.3,.11],[1005.6,.112],[1028.3,.107],[1043.3,.114],[1048.4,.115],[1040.8,.107],[1054.2,.107],[1058.4,.111],[1071,.11],[1072.6,.107],[1080.5,.133],[1079.3,.117],[1100.3,.124],[1102,.117],[1111.2,.124],[1111.2,.113],[1113.7,.109],[1105.3,.107],[1100.3,.107],[1095.3,.106],[1125.4,.111],[1125.4,.107],[1129.6,.114],[998.1,.113],[1004.8,.105],[981.4,.107],[967.9,.128],[965.4,.132],[966.3,.113],
[838.1,.121],[831.4,.115],[842.3,.107],[857.4,.11],[862.4,.134],[869.1,.131],[874.2,.127],[876.7,.135],[921.1,.119],[891.7,.113],[937.8,.115],[937,.106],[930.3,.106],[960.4,.126],[960.4,.13],[868.3,.11],[877.5,.109],[894.2,.107],[904.3,.107],[912.7,.109],
[1182.7,.162],[1184.5,.148],[1182.4,.14],[1183.2,.132],[1177.3,.127],[1179.8,.12],[1186.5,.123],[1186.5,.118],[1185.7,.111],[1174.8,.111],[1179,.112],[1218.4,.139],[1220,.13],[1210.8,.128],[1216.7,.125],[1220.9,.122],[1219.2,.115],[1215.9,.111],[1221.7,.109],[1214.2,.107],[1153,.12],[1156.9,.112],[1150.2,.11],[1146.2,.114],[1130.4,.114],[1136,.108],[1155.2,.105],[1198.8,.105],[1126.2,.111],
[1272.5,.207],[1274.4,.19],[1279.2,.187],[1265.3,.178],[1274.5,.173],[1272.5,.165],[1274.5,.16],[1265.7,.149],[1275.7,.141],[1339.2,.149],[1338,.141],[1268.5,.131],[1300.3,.128],[1315.4,.13],[1326,.128],[1304.2,.124],[1342,.123],[1346,.113],[1312.2,.118],[1284.4,.118],[1290.4,.113]];

const tcIsam3Points: Pt[] = [
[194.1,.249],[257.7,.239],[202.3,.23],[205.9,.237],[206.4,.221],[286.9,.207],[287.2,.195],[193.6,.212],[204,.19],[178.2,.164],[180.8,.146],[175.6,.125],
[239.3,.204],[244.3,.196],[253.6,.202],[260.3,.194],[246,.189],[253.6,.19],[254.4,.181],[236.8,.185],[235.1,.178],[240.7,.18],[244.4,.176],[255.2,.172],[249.4,.169],[256.9,.165],[203.3,.19],[203.3,.18],[217.5,.178],[225.1,.169],[231,.173],[229.3,.165],[219.2,.167],[214.5,.163],[192.4,.171],[178,.165],[237.6,.159],[243.8,.161],[248.5,.16],[256.9,.156],[268.6,.155],[277.9,.153],[287.9,.165],[200.3,.157],[210.3,.155],[214.2,.155],[221.7,.155],[228.4,.153],[231,.151],[242.7,.148],[247.7,.151],[251.9,.152],[257.7,.151],[263.1,.15],[180.7,.155],[191.3,.153],[204.5,.153],[200.8,.148],[186.6,.148],[183.2,.143],[192.4,.146],[218.4,.146],[247.7,.144],[250.2,.139],[258.6,.142],[262,.136],[277,.147],[283.7,.149],[287.9,.147],[280.4,.148],[189.9,.14],[200,.142],[214.2,.14],[225.9,.142],[222.6,.139],[242.7,.136],[263.6,.131],[274.5,.136],[284.6,.136],[280.4,.132],[197.5,.136],[215,.136],[224.3,.134],[237.6,.131],[254.4,.132],[205.8,.132],[181.5,.13],[185.7,.128],[178.2,.126],[200.8,.13],[195.8,.13],[223.4,.13],[228.4,.129],[241,.13],[249.4,.127],[261.1,.124],[264.5,.122],[284.6,.124],[290.4,.126],[276.2,.123],[190.8,.126],[198.3,.123],[179,.12],[184.9,.12],[205.8,.122],[212.5,.122],[221.7,.124],[234.3,.12],[239.3,.123],[252.7,.123],[272.8,.116],[277.9,.112],[189.1,.116],[195.8,.116],[209.2,.116],[217.5,.116],[227.6,.118],[241,.116],[257.7,.116],[179.9,.11],[186.6,.109],[194.1,.11],[204.2,.113],[215,.111],[222.6,.11],[231.8,.113],[239.3,.113],[247.7,.111],[267.8,.114],[283.7,.111],[270.3,.11],[281.2,.107],[200.8,.106],[210.8,.107],[230.1,.107],
[4.4,.116],[2.6,.11],[65.9,.146],[68.8,.132],[41,.123],[75.6,.114],[34.6,.128],[134.4,.185],[132.6,.177],[119.2,.16],[126.9,.159],[135,.157],[129.5,.146],[114.1,.136],[136,.136],[137.2,.123],[130.8,.121],[143,.02],[146.2,.016],[142.8,.045],[335,.011],[342,.005],[351,.006],[357,.027],[357,.009],
[645.2,.349],[650.9,.337],[635.8,.329],[638.9,.318],[635.9,.311],[652,.318],[615.4,.302],
[589.4,.299],[592.4,.29],[593,.281],[594.7,.273],[595.2,.266],[595.2,.259],[591,.251],[587.4,.244],[591.9,.242],[590.2,.231],[587.7,.223],[583.5,.217],[590.2,.219],[591,.21],[586.9,.209],[581.8,.205],[586.9,.2],[577.7,.194],[581.8,.194],[591.9,.195],[596.4,.194],[587.7,.19],[581.8,.185],[585.2,.182],[576.8,.178],[577.7,.17],[581.8,.168],[575.1,.163],[570.1,.156],[580.2,.148],[567.6,.149],[573.5,.147],[568.4,.139],[574.3,.141],[571.8,.131],[579.3,.127],[565.1,.124],[569.3,.112],[564.3,.107],[553.4,.11],[615.3,.303],[617.9,.285],[611.2,.271],[610.3,.263],[615.3,.259],[611.2,.251],[609.5,.247],[607.8,.238],[610.3,.237],[607.5,.223],[615.3,.225],[616.2,.218],[622,.221],[618.7,.214],[624.6,.211],[613.7,.21],[608.6,.206],[614.5,.202],[612,.198],[624.6,.203],[621.2,.2],[626.2,.196],[631.3,.194],[635.4,.189],[606.1,.195],[600.3,.189],[605.3,.184],[596.9,.181],[601.1,.178],[606.1,.172],[597.7,.167],[604.5,.164],[605.3,.157],[599.4,.157],[602.8,.149],[597.7,.141],[602.8,.136],[597.7,.132],[601.1,.127],[597.7,.122],[599.4,.117],[617,.189],[621.2,.186],[618.7,.178],[626.2,.184],[629.6,.176],[624.6,.169],[632.9,.17],[638.8,.169],[619.5,.16],[627,.16],[632.1,.157],[621.2,.149],[617.9,.141],[625.4,.147],[616.2,.131],[621.2,.133],[643,.3],[648,.296],[643.8,.292],[634.6,.287],[632.9,.278],[641.3,.283],[646.3,.27],[638.8,.264],[648.8,.252],[652.2,.251],[640.5,.254],[631.3,.251],[629.6,.248],[640.5,.245],[653.9,.243],[652.2,.238],[638,.239],[645.5,.238],[632.1,.234],[627.9,.226],[637.1,.228],[653,.23],[649.7,.227],[628.7,.217],[650.5,.218],[648,.212],[655.5,.211],[633.8,.205],[652.2,.201],[653.9,.194],[646.3,.189],[646.3,.182],[653.9,.18],[658.9,.178],[656.4,.165],[657.2,.156],[657.2,.144],[658,.139],[657.2,.128],
[485.4,.19],[483.3,.183],[479.7,.164],[480.2,.157],[476.4,.132],[488,.116],[472.6,.11],[517.4,.183],[518.7,.169],[512,.146],[515.7,.141],[517.4,.123],[503.3,.117],
[407.2,.146],[391.8,.13],[414.9,.128],[387,.116],[393.4,.116],[443.1,.11],[387.9,.085],[392.5,.077],[408.5,.076],[414.9,.089],[434.1,.088],[436.7,.067],[444.4,.078],[399.2,.074],[391.8,.061],[395.6,.054],[414.6,.059],[421.3,.058],
[1262.6,.165],[1264.5,.158],[1266.5,.147],[1268.5,.14],[1270,.13],[1258,.12]];

const lcIsamPoints: Pt[] = [
[407.2,.203],[411.6,.197],[404.6,.191],[417.4,.192],[414.8,.188],[443.1,.215],[435.4,.208],[436.6,.188],[409.8,.172],[428.9,.182],[425.1,.175],[422.6,.168],[427.7,.168],[433,.168],[445.6,.166],[413.6,.161],[404.6,.159],[391.8,.154],[401.3,.15],[441.8,.157],[422.6,.146],[413.6,.146],[428.9,.137],[444.4,.146],[387,.125],[402,.119],[418.7,.121],[432.8,.125],[445.6,.13],[416.2,.132],[372.6,.137],
[586.7,.148],[631.5,.183],[641.8,.168],[644.4,.159],[639.3,.157],[635.5,.146],[647.3,.139],[626.4,.137],[608.5,.143],[645.7,.128],[652,.126],[593.1,.123],[609.8,.13],[657.2,.121],[646.4,.067],[657.9,.049],[657.9,.016],[657.2,.079],[626.4,.088],[610.1,.058],[590.5,.043],
[132,.182],[200,.179],[203.8,.163],[229.5,.179],[264.1,.205],[269.2,.172],[218.5,.041],[239,.049],[285.9,.061],[288.5,.078],[276.9,.061],[164.1,.078],[211,.143],[228,.14],[262,.16],[270,.15],[197,.166],[256,.118],[244,.122]];

const lcBatchBands: Row[][] = [
[[0,.02,.04],[4,.025,.06],[10,.03,.08],[25,.03,.09],[50,.03,.09],[70,.03,.09],[82,.03,.08]],
[[106,.02,.09],[110,.02,.12],[118,.03,.15],[128,.05,.15],[136,.08,.14]],
[[162,.02,.1],[170,.03,.13],[185,.05,.13],[210,.06,.12],[240,.06,.12],[265,.06,.12],[285,.06,.12],[290,.06,.115]],
[[292,.05,.11],[300,.05,.115],[312,.05,.115],[322,.05,.115],[328,.05,.105]],
[[362,.02,.09],[368,.03,.12],[376,.05,.125],[395,.05,.12],[420,.05,.12],[440,.05,.125],[447,.05,.12]],
[[458,.02,.06],[465,.03,.1],[475,.04,.12],[488,.05,.12]],
[[503,.02,.06],[510,.03,.1],[518,.05,.12]],
[[553,.02,.07],[560,.03,.09],[568,.04,.1],[574,.05,.09]],
[[803,.03,.07],[812,.04,.1],[900,.05,.103],[1000,.05,.103],[1100,.05,.103],[1222,.05,.103]],
[[1247,.01,.08],[1252,.02,.115],[1258,.05,.13],[1268,.07,.13],[1275,.08,.12]],
[[1290,.03,.11],[1300,.05,.115],[1315,.05,.115],[1330,.06,.115],[1349,.06,.115]]];

const lcIsamBands: Row[][] = [
[[1,.002,.01],[10,.002,.011],[20,.002,.012],[30,.002,.01],[40,.002,.009],[50,.003,.012],[60,.003,.016],[70,.003,.012],[80,.004,.011],[88,.005,.01]],
[[104,.004,.009],[108,.005,.015],[113,.008,.03],[118,.015,.05],[124,.03,.08],[130,.06,.1]],
[[163,.004,.008],[170,.006,.02],[175,.012,.04],[182,.02,.055],[190,.035,.07],[200,.06,.085],[208,.05,.09],[215,.05,.09],[222,.05,.1],[230,.06,.11],[238,.055,.1],[245,.055,.1],[252,.06,.11],[260,.07,.11],[270,.08,.105],[282,.06,.105],[290,.06,.1]],
[[292,.006,.015],[300,.008,.018],[312,.008,.018],[325,.008,.016],[330,.008,.016]],
[[362,.006,.012],[366,.01,.05],[372,.012,.06],[380,.035,.075],[390,.05,.09],[400,.04,.07],[405,.07,.115],[415,.06,.115],[425,.07,.115],[435,.06,.115],[447,.06,.115]],
[[458,.008,.05],[463,.01,.04],[470,.015,.035],[476,.025,.055],[482,.03,.07],[488,.04,.085]],
[[502,.006,.02],[507,.006,.025],[512,.012,.035],[516,.025,.055],[520,.04,.065]],
[[552,.005,.02],[560,.005,.03],[568,.005,.04],[575,.012,.05],[582,.025,.07],[590,.05,.09],[598,.06,.105],[605,.06,.125],[615,.07,.13],[625,.09,.14],[635,.1,.15],[642,.12,.16],[647,.08,.13],[652,.075,.12],[656,.075,.12]],
[[673,.002,.01],[677,.003,.01],[682,.002,.01],[686,.002,.01]],
[[769,.001,.008],[772,.001,.008]],
[[803,.003,.012],[820,.004,.012],[840,.004,.014],[860,.003,.012],[880,.004,.012],[900,.003,.012],[920,.004,.013],[940,.004,.012],[960,.004,.014],[980,.004,.012],[1000,.003,.012],[1020,.004,.014],[1040,.004,.012],[1060,.004,.012],[1080,.004,.013],[1100,.003,.012],[1120,.004,.012],[1140,.004,.012],[1160,.004,.013],[1180,.004,.012],[1200,.004,.012],[1225,.004,.012]],
[[1247,.005,.02],[1252,.01,.035],[1258,.025,.06],[1265,.04,.072],[1272,.04,.075],[1276,.05,.075]],
[[1290,.005,.035],[1296,.008,.03],[1320,.018,.04],[1335,.018,.075],[1349,.03,.075]]];

const tcBatchBands: Row[][] = [
[[0,.003,.03],[3,.008,.05],[7,.02,.075],[12,.03,.085],[18,.035,.09],[25,.04,.1],[32,.04,.095],[38,.045,.085],[44,.04,.09],[50,.05,.095],[56,.05,.1],[62,.055,.1],[68,.04,.095],[74,.035,.085],[79,.03,.075],[84,.02,.065],[88,.012,.045]],
[[103,.005,.03],[107,.015,.06],[112,.03,.09],[116,.05,.12],[120,.08,.15],[123,.11,.16]],
[[163,.005,.03],[166,.02,.07],[169,.05,.1],[172,.07,.11]],
[[291,.015,.06],[295,.02,.08],[300,.03,.09],[306,.03,.095],[312,.025,.095],[318,.03,.1],[324,.03,.095],[330,.03,.09]],
[[358,.008,.02],[361,.012,.04],[364,.02,.07],[367,.05,.09]],
[[459,.012,.025],[462,.02,.05],[465,.03,.08],[467,.06,.1]],
[[502,.02,.035],[505,.025,.06],[508,.04,.08],[511,.06,.1]],
[[553,.012,.03],[555,.02,.06],[557,.04,.09],[559,.06,.09]],
[[675,.014,.025],[678,.014,.05],[681,.02,.055],[684,.02,.045]],
[[767,.02,.052],[771,.02,.052],[775,.02,.048]],
[[803,.006,.05],[808,.015,.056],[815,.024,.06],[825,.026,.063],[835,.03,.06],[845,.03,.062],[855,.028,.066],[865,.03,.062],[875,.024,.06],[885,.024,.058],[895,.022,.06],[905,.028,.056],[915,.026,.062],[925,.03,.056],[935,.028,.058],[945,.032,.066],[955,.034,.07],[965,.03,.064],[975,.02,.056],[985,.02,.06],[995,.012,.054],[1005,.012,.058],[1015,.024,.052],[1025,.026,.05],[1035,.018,.056],[1045,.012,.05],[1055,.014,.056],[1065,.022,.054],[1075,.022,.056],[1085,.012,.062],[1095,.012,.055],[1105,.016,.05],[1115,.018,.056],[1125,.024,.056],[1135,.026,.058],[1145,.026,.056],[1155,.02,.06],[1165,.014,.066],[1175,.014,.055],[1185,.024,.05],[1195,.026,.054],[1205,.024,.052],[1215,.024,.058],[1224,.024,.062]],
[[1245,.005,.05],[1250,.01,.09],[1255,.03,.11],[1258,.05,.13]],
[[1288,.03,.06],[1293,.03,.09],[1300,.035,.095],[1306,.04,.1],[1312,.035,.085],[1318,.05,.095],[1324,.05,.105],[1330,.06,.12],[1336,.05,.13],[1342,.05,.115],[1349,.05,.11]]];

const tcIsam3Bands: Row[][] = [
[[2,.006,.02],[10,.008,.03],[20,.008,.035],[30,.008,.04],[40,.008,.04],[50,.01,.055],[60,.012,.06],[70,.01,.05],[80,.012,.04],[88,.012,.03]],
[[105,.009,.02],[109,.012,.04],[114,.02,.06],[120,.03,.09],[126,.05,.11],[131,.06,.12],[136,.07,.13]],
[[163,.005,.015],[168,.012,.06],[172,.02,.09],[177,.03,.105],[185,.06,.105],[195,.07,.105],[202,.07,.105],[207,.045,.1],[215,.05,.105],[225,.06,.105],[235,.065,.105],[245,.07,.105],[255,.08,.105],[262,.06,.105],[268,.04,.105],[276,.045,.1],[287,.07,.1]],
[[292,.012,.03],[300,.015,.05],[310,.016,.04],[320,.016,.045],[330,.018,.05]],
[[363,.01,.035],[370,.012,.03],[380,.012,.03],[390,.014,.04],[400,.015,.035],[410,.014,.04],[420,.012,.033],[430,.012,.035],[440,.012,.035],[447,.014,.03]],
[[459,.01,.02],[465,.015,.04],[470,.03,.07],[475,.04,.09],[480,.06,.12],[487,.08,.135]],
[[503,.01,.03],[508,.02,.05],[512,.03,.07],[516,.05,.11],[519,.07,.14]],
[[554,.01,.03],[558,.02,.05],[562,.03,.08],[566,.05,.1],[570,.07,.11]],
[[674,.01,.028],[680,.012,.032],[685,.012,.03]],
[[767,.008,.03],[775,.008,.03]],
[[803,.008,.03],[815,.012,.024],[825,.012,.02],[835,.012,.03],[845,.012,.03],[855,.01,.028],[865,.012,.028],[875,.012,.022],[885,.012,.02],[895,.012,.025],[905,.01,.022],[915,.01,.03],[925,.012,.024],[935,.012,.03],[945,.012,.034],[955,.012,.026],[965,.01,.022],[975,.012,.026],[985,.012,.028],[995,.012,.02],[1005,.012,.028],[1015,.012,.032],[1025,.012,.026],[1035,.012,.028],[1045,.012,.022],[1055,.012,.028],[1065,.012,.03],[1075,.012,.024],[1085,.012,.028],[1095,.012,.026],[1105,.012,.032],[1115,.012,.026],[1125,.01,.034],[1135,.012,.03],[1145,.012,.024],[1155,.012,.02],[1165,.012,.024],[1175,.012,.034],[1185,.012,.028],[1195,.012,.024],[1205,.012,.03],[1215,.012,.03],[1225,.012,.028]],
[[1250,.01,.02],[1254,.03,.07],[1258,.07,.12],[1264,.06,.135],[1270,.06,.12],[1276,.07,.11]],
[[1294,.025,.06],[1300,.025,.07],[1310,.025,.065],[1320,.028,.06],[1330,.03,.075],[1340,.025,.08],[1349,.03,.07]]];

const tcIsam10Bands: Row[][] = [
[[4,.03,.07],[12,.04,.1],[25,.04,.105],[40,.03,.11],[55,.03,.11],[70,.03,.105],[80,.03,.095],[87,.04,.08]],
[[104,.02,.07],[108,.02,.09],[115,.03,.1],[120,.05,.11],[125,.08,.13],[130,.09,.14],[136,.1,.14]],
[[163,.015,.04],[168,.03,.09],[172,.07,.115],[180,.07,.12],[200,.07,.12],[230,.08,.125],[255,.08,.125],[275,.08,.12],[287,.08,.12]],
[[293,.03,.08],[300,.04,.1],[312,.04,.102],[325,.04,.1],[330,.04,.095]],
[[362,.01,.06],[368,.04,.115],[376,.04,.118],[385,.04,.115],[393,.05,.112],[400,.05,.11],[408,.05,.105],[415,.05,.11],[423,.05,.112],[430,.04,.115],[440,.04,.11],[447,.04,.11]],
[[458,.02,.08],[464,.03,.1],[470,.03,.12],[475,.04,.13],[482,.06,.14],[488,.06,.15]],
[[502,.02,.06],[507,.03,.09],[512,.04,.12],[516,.06,.14],[519,.08,.15]],
[[553,.02,.1],[557,.02,.12],[562,.03,.1]],
[[673,.03,.1],[678,.035,.115],[682,.04,.08]],
[[768,.03,.045],[775,.03,.045]],
[[803,.02,.09],[810,.04,.1],[820,.05,.1],[830,.05,.104],[838,.05,.1],[850,.055,.1],[858,.05,.104],[870,.055,.104],[880,.05,.1],[890,.055,.1],[900,.05,.1],[910,.055,.102],[918,.05,.102],[930,.055,.104],[940,.05,.1],[952,.055,.104],[960,.055,.104],[970,.05,.102],[980,.055,.1]],
[[986,.065,.1],[995,.06,.102],[1008,.06,.1]],
[[1013,.055,.104],[1030,.05,.1],[1045,.05,.102],[1055,.05,.1],[1060,.055,.102]],
[[1066,.065,.1],[1075,.05,.102],[1085,.055,.1],[1100,.055,.104],[1110,.05,.1]],
[[1116,.06,.102],[1130,.05,.1],[1140,.05,.1],[1150,.05,.1],[1165,.055,.102],[1175,.055,.104],[1185,.05,.104],[1200,.05,.1],[1210,.05,.102],[1225,.05,.1]],
[[1248,.02,.09],[1254,.05,.11],[1260,.08,.13],[1268,.1,.14],[1275,.09,.14],[1280,.09,.12]],
[[1290,.06,.105],[1300,.07,.11],[1312,.07,.11],[1325,.07,.112],[1335,.07,.11],[1349,.07,.11]]];

const annotationLabels = [
  { text: "Urban Areas", x: 189, y: 183, font: "bold 57px 'Liberation Sans'" },
  { text: "No Optimization", x: 1561, y: 162, font: "bold 57.5px 'Liberation Sans'" },
  { text: "(Zero-Velocity)", x: 1620, y: 218, font: "49px 'Liberation Sans'" },
  { text: "Determinstic", x: 1783, y: 915, font: "bold 58px 'Liberation Sans'" },
  { text: "State variable time interval", x: 1593, y: 980, font: "bold 57.8px 'Liberation Sans'" },
];
const annotationArrows = [
  { from: [349, 205], tip: [499, 290], a: [465, 237], b: [436, 289], w: 14 },
  { from: [1722, 228], tip: [1632, 344], a: [1691, 319], b: [1643, 282], w: 11 },
  { from: [1716, 226], tip: [2595, 520], a: [2551, 475], b: [2533, 532], w: 13 },
  { from: [1754, 994], tip: [1691, 1148], a: [1683, 1091], b: [1739, 1114], w: 11 },
];
const INK = "#2B2A29";
const legendBox = { x: 2324, y: 71, w: 452, h: 309 };
const legendRows = [
  { my: 104, tx: 2404, ty: 123 }, { my: 165, tx: 2405, ty: 188 }, { my: 224, tx: 2403, ty: 244 },
  { my: 285, tx: 2405, ty: 302 }, { my: 343, tx: 2406, ty: 359 },
];

function makeDatasets() {
  const out: any[] = [];
  out.push({
    label: "Deterministic interval", data: intervalLine.map(([x, y]) => ({ x, y })), showLine: true,
    borderColor: "#444444", borderWidth: 12, pointRadius: 0, clip: false, fill: false,
  });
  const order = [
    { i: 2, pts: tcBatchPoints, bands: tcBatchBands },
    { i: 3, pts: tcIsam3Points, bands: tcIsam3Bands },
    { i: 4, pts: tcIsam10Points, bands: tcIsam10Bands },
    { i: 1, pts: lcIsamPoints, bands: lcIsamBands },
    { i: 0, pts: lcBatchPoints, bands: lcBatchBands },
  ];
  order.forEach(({ i, pts, bands }) => {
    const c = seriesColors[i];
    const dot = { pointRadius: 5.7, pointBackgroundColor: c, pointBorderWidth: 0, clip: false };
    out.push({ label: seriesNames[i], data: pts.map(([x, y]) => ({ x, y })), showLine: false, ...dot });
    bands.forEach((rows) => {
      out.push({
        label: seriesNames[i] + " upper", data: rows.map((r) => ({ x: r[0], y: r[2] })), showLine: true,
        borderColor: c, borderWidth: 5, backgroundColor: c, fill: "+1", tension: 0, ...dot,
      });
      out.push({
        label: seriesNames[i] + " lower", data: rows.map((r) => ({ x: r[0], y: r[1] })), showLine: true,
        borderColor: c, borderWidth: 5, fill: false, tension: 0, ...dot,
      });
    });
  });
  return out;
}

const decorPlugin = {
  id: "decor",
  beforeDatasetsDraw(chart: any) {
    const { ctx, scales: { x, y } } = chart;
    ctx.save();
    ctx.fillStyle = "rgba(187,187,187,0.65)";
    const top = y.getPixelForValue(1);
    const bottom = y.getPixelForValue(0.002);
    noOptimizationRegions.forEach(([a, b]) => {
      const l = x.getPixelForValue(a);
      ctx.fillRect(l, top, x.getPixelForValue(b) - l, bottom - top);
    });
    ctx.restore();
  },
  afterDatasetsDraw(chart: any) {
    const { ctx, chartArea: ca, scales: { x, y } } = chart;
    ctx.save();
    ctx.strokeStyle = "#7A7A7A";
    ctx.lineWidth = 2;
    ctx.strokeRect(ca.left, ca.top, ca.right - ca.left, ca.bottom - ca.top);
    ctx.beginPath();
    const tick = 28;
    x.ticks.forEach((t: any) => {
      const p = x.getPixelForValue(t.value);
      ctx.moveTo(p, ca.top); ctx.lineTo(p, ca.top + tick);
      ctx.moveTo(p, ca.bottom); ctx.lineTo(p, ca.bottom - tick);
    });
    y.ticks.forEach((t: any) => {
      const p = y.getPixelForValue(t.value);
      ctx.moveTo(ca.left, p); ctx.lineTo(ca.left + tick, p);
      ctx.moveTo(ca.right, p); ctx.lineTo(ca.right - tick, p);
    });
    ctx.stroke();
    ctx.fillStyle = INK;
    ctx.strokeStyle = INK;
    annotationArrows.forEach((ar) => {
      const mx = (ar.a[0] + ar.b[0]) / 2, my = (ar.a[1] + ar.b[1]) / 2;
      ctx.lineWidth = ar.w;
      ctx.beginPath(); ctx.moveTo(ar.from[0], ar.from[1]); ctx.lineTo(mx, my); ctx.stroke();
      ctx.beginPath(); ctx.moveTo(ar.tip[0], ar.tip[1]); ctx.lineTo(ar.a[0], ar.a[1]); ctx.lineTo(ar.b[0], ar.b[1]); ctx.closePath(); ctx.fill();
    });
    ctx.textBaseline = "alphabetic";
    ctx.textAlign = "left";
    annotationLabels.forEach((l) => { ctx.font = l.font; ctx.fillText(l.text, l.x, l.y); });
    ctx.font = "bold 42.4px 'Liberation Sans'";
    ctx.fillText(xAxisTitle, 1436, 1405);
    ctx.fillStyle = "#FFFFFF";
    ctx.fillRect(legendBox.x, legendBox.y, legendBox.w, legendBox.h);
    ctx.strokeStyle = "#555555";
    ctx.lineWidth = 1.5;
    ctx.strokeRect(legendBox.x, legendBox.y, legendBox.w, legendBox.h);
    ctx.font = "bold 49.6px 'Liberation Sans'";
    seriesNames.forEach((n, i) => {
      const r = legendRows[i];
      ctx.fillStyle = seriesColors[i];
      ctx.beginPath(); ctx.arc(2366, r.my, 5.4, 0, Math.PI * 2); ctx.fill();
      ctx.fillStyle = INK;
      ctx.fillText(n, r.tx, r.ty);
    });
    ctx.restore();
  },
};

const clearPadding = (s: any) => { s.paddingLeft = 0; s.paddingRight = 0; s.paddingTop = 0; s.paddingBottom = 0; };

export default function App() {
  const ref = useRef<HTMLCanvasElement>(null);
  useEffect(() => {
    document.body.style.margin = "0";
    document.body.style.overflow = "hidden";
    const tickFont = { family: "'Liberation Sans'", size: 42, weight: "bold" as const };
    const chart = new Chart(ref.current!, {
      type: "scatter",
      data: { datasets: makeDatasets() },
      plugins: [decorPlugin],
      options: {
        responsive: false,
        animation: false,
        events: [],
        layout: { padding: { top: 15, right: 3, left: 0, bottom: 0 } },
        plugins: { legend: { display: false }, tooltip: { enabled: false } },
        scales: {
          x: {
            type: "linear", min: 0, max: 1350,
            afterFit: (s: any) => { s.height = 139; clearPadding(s); },
            afterBuildTicks: (s: any) => {
              const t = [];
              for (let v = 0; v <= 1350; v += xTickStep) t.push({ value: v });
              s.ticks = t;
            },
            border: { display: false },
            grid: { color: "#EBEBEB", lineWidth: 4, drawTicks: false },
            ticks: {
              autoSkip: false, minRotation: 45, maxRotation: 45, padding: 10, labelOffset: 26,
              color: "#404040", font: tickFont,
              callback: (v: any) => (Number(v) % 100 === 0 ? String(v) : ""),
            },
            title: { display: false, text: xAxisTitle },
          },
          y: {
            min: 0, max: 1,
            afterFit: (s: any) => { s.width = 150.5; clearPadding(s); },
            border: { display: false },
            grid: { color: "#EBEBEB", lineWidth: 4, drawTicks: false },
            ticks: {
              stepSize: yTickStep, padding: 17, color: "#404040", font: tickFont,
              callback: (v: any) => String(Number(Number(v).toFixed(1))),
            },
            title: {
              display: true, text: "Optimization Time (sec)", color: INK,
              font: { family: "'Liberation Sans'", size: 39, weight: "bold" }, padding: { top: 0, bottom: 0 },
            },
          },
        },
      },
    } as any);
    return () => chart.destroy();
  }, []);
  return <canvas ref={ref} width={2839} height={1418} style={{ display: "block", position: "fixed", left: 0, top: 0 }} />;
}
